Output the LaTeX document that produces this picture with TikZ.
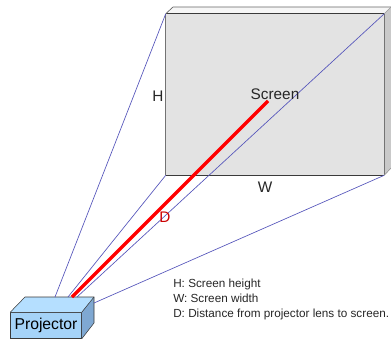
\documentclass[tikz,border=0pt]{standalone}
\usepackage{fontspec}
\setmainfont{Liberation Sans}
\usetikzlibrary{positioning}
\definecolor{screenfill}{HTML}{E3E3E3}
\definecolor{screenside}{HTML}{C9C9C9}
\definecolor{screentop}{HTML}{F6F6F6}
\definecolor{projfront}{HTML}{A5D3F8}
\definecolor{projtop}{HTML}{B5DFFF}
\definecolor{projside}{HTML}{7FA8D2}
\definecolor{beamblue}{HTML}{5555BB}
\definecolor{edgedark}{HTML}{3A3A3A}
\begin{document}
\begin{tikzpicture}[
    x=0.75pt, y=-0.75pt,
    screenbox/.style={rectangle, fill=screenfill, minimum width=163.5pt, minimum height=120.75pt, inner sep=0pt},
    projbox/.style={rectangle, draw=edgedark, fill=projfront, minimum width=53.25pt, minimum height=19.5pt, inner sep=0pt, font=\fontsize{11.8}{13}\selectfont},
    beam/.style={draw=beamblue, line width=0.5pt},
    distline/.style={draw=red, line width=2.5pt},
    label/.style={font=\fontsize{11.5}{13}\selectfont, text=black!85},
    legend/.style={font=\fontsize{8.8}{10}\selectfont, text=black!85, inner sep=0pt, text height=7pt, text depth=2pt, anchor=west}
]
    \useasboundingbox (0,0) rectangle (391,339);

    % Screen
    \node[screenbox] (screen) at (275,94.5) {};
    \coordinate (screen_tl) at (173,7);
    \coordinate (screen_tr) at (391,7);
    \coordinate (screen_br) at (391,168);
    \fill[screentop] (screen.north west) -- (screen_tl) -- (screen_tr) -- (screen.north east) -- cycle;
    \fill[screenside] (screen.north east) -- (screen_tr) -- (screen_br) -- (screen.south east) -- cycle;
    \draw[edgedark, line width=0.6pt] (screen.north west) -- (screen.north east);
    \draw[edgedark, line width=0.8pt] (screen.south west) -- (screen.south east);
    \draw[black!55, line width=0.6pt] (screen.north west) -- (screen.south west);
    \draw[black!55, line width=0.9pt] (screen.north east) -- (screen.south east);
    \draw[black!60, line width=0.5pt] (screen.north west) -- (screen_tl) -- (screen_tr);
    \draw[black!40, line width=0.5pt] (screen.north east) -- (screen_tr);
    \draw[black!40, line width=0.5pt] (screen.south east) -- (screen_br);

    % Projector
    \node[projbox] (proj) at (46,325.5) {Projector};
    \coordinate (proj_tl) at (25,297);
    \coordinate (proj_tr) at (94,297);
    \coordinate (proj_br) at (94,323);
    \fill[projtop] (proj.north west) -- (proj_tl) -- (proj_tr) -- (proj.north east) -- cycle;
    \fill[projside] (proj.north east) -- (proj_tr) -- (proj_br) -- (proj.south east) -- cycle;
    \draw[edgedark, line width=0.4pt] (proj.north west) -- (proj_tl) -- (proj_tr) -- (proj_br) -- (proj.south east);
    \draw[edgedark, line width=0.4pt] (proj.north east) -- (proj_tr);

    % Beams
    \coordinate (lens_a) at (55,297);
    \coordinate (lens_b) at (68,297);
    \coordinate (lens_c) at (77,297);
    \coordinate (lens_d) at (94,303);
    \coordinate (lens_e) at (72,297);
    \coordinate (screen_mid) at (268,101);
    \draw[beam] (lens_a) -- (screen.north west);
    \draw[beam] (lens_b) -- (screen.south west);
    \draw[beam] (lens_c) -- (screen.north east);
    \draw[beam] (lens_d) -- (screen.south east);
    \draw[distline] (lens_e) -- (screen_mid);

    % Labels
    \node[label] (screen_label) at (275,94) {Screen};
    \node[label] (h_label) at (158,96) {H};
    \node[label] (w_label) at (265,187) {W};
    \node[label, text=red!80!black] (d_label) at (165,217) {D};

    % Legend
    \node[legend] (leg_h) at (173,284) {H: Screen height};
    \node[legend, below=1.9pt of leg_h.south west, anchor=north west] (leg_w) {W: Screen width};
    \node[legend, below=1.9pt of leg_w.south west, anchor=north west] (leg_d) {D: Distance from projector lens to screen.};
\end{tikzpicture}
\end{document}
